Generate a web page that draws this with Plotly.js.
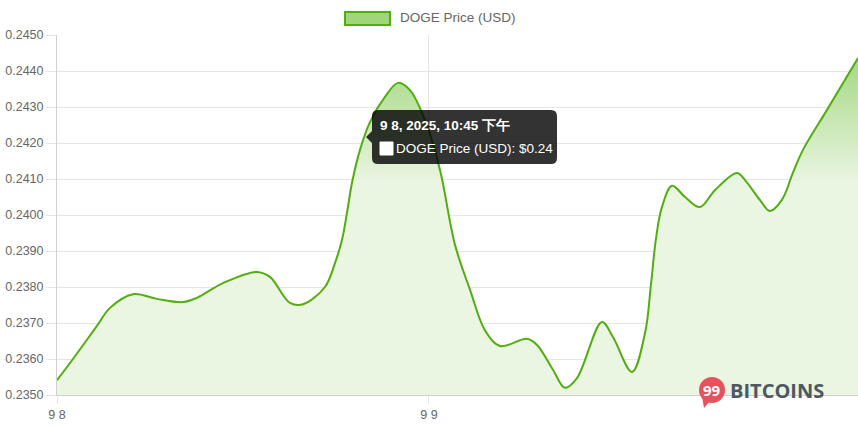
<!DOCTYPE html>
<html>
<head>
<meta charset="utf-8">
<script src="https://cdn.plot.ly/plotly-3.0.1.min.js"></script>
<style>html,body{margin:0;padding:0;background:#fff;}#chart{width:858px;height:428px;}</style>
</head>
<body>
<div id="chart"></div>
<script>
// hours since 2025-09-08 00:00
const hours = [0, 1.03, 2.58, 3.42, 4.90, 6.45, 8.13, 9.03, 10.71, 12.90, 13.74, 15.03, 15.87, 17.29, 17.94, 18.39, 18.71, 19.03, 19.55, 20.19, 21.16, 22.00, 22.77, 23.74, 24.71, 25.68, 26.65, 27.61, 28.58, 30.32, 30.97, 32.00, 32.77, 33.55, 35.16, 35.87, 37.10, 37.94, 38.32, 38.65, 39.03, 39.68, 40.52, 41.48, 42.45, 43.87, 44.39, 45.35, 45.99, 46.77, 47.48, 48.13, 49.68, 51.68];
const prices = [0.23541, 0.23600, 0.23692, 0.23742, 0.23780, 0.23767, 0.23758, 0.23770, 0.23811, 0.23842, 0.23828, 0.23756, 0.23752, 0.23800, 0.23867, 0.23931, 0.24006, 0.24089, 0.24181, 0.24258, 0.24328, 0.24367, 0.24347, 0.24264, 0.24125, 0.23917, 0.23792, 0.23680, 0.23636, 0.23656, 0.23639, 0.23570, 0.23520, 0.23547, 0.23703, 0.23661, 0.23564, 0.23672, 0.23806, 0.23936, 0.24022, 0.24081, 0.24050, 0.24022, 0.24069, 0.24117, 0.24097, 0.24042, 0.24011, 0.24042, 0.24117, 0.24181, 0.24292, 0.24436];
const tickPos = [0, 24];
const tickLabels = ['9 8', '9 9'];
const seriesName = 'DOGE Price (USD)';
const tooltipTitle = '9 8, 2025, 10:45 下午';
const tooltipBody = 'DOGE Price (USD): $0.24';

const LINE = '#52ae10';
// pixel -> paper helpers for decorations (legend, tooltip, watermark)
const ML = 57, MT = 35, PW = 801, PH = 360;
const PX = p => (p - ML) / PW;
const PY = p => (MT + PH - p) / PH;

const trace = {
  x: hours, y: prices, type: 'scatter', mode: 'lines', name: seriesName,
  line: {color: LINE, width: 2, shape: 'spline', smoothing: 1.0},
  fill: 'tozeroy',
  fillcolor: 'rgba(234,245,226,1)',
  fillgradient: {type: 'vertical', start: 0.2350, stop: 0.2445,
    colorscale: [[0, 'rgba(234,245,226,1)'], [0.62, 'rgba(234,245,226,1)'], [1, 'rgba(163,215,128,1)']]},
  hoverinfo: 'skip', showlegend: false
};

function tooltipPath(x0, y0, x1, y1, r) {
  const f = (x, y) => PX(x) + ',' + PY(y);
  return 'M' + f(x0 + r, y0) + ' L' + f(x1 - r, y0) + ' Q' + f(x1, y0) + ' ' + f(x1, y0 + r) +
    ' L' + f(x1, y1 - r) + ' Q' + f(x1, y1) + ' ' + f(x1 - r, y1) +
    ' L' + f(x0 + r, y1) + ' Q' + f(x0, y1) + ' ' + f(x0, y1 - r) +
    ' L' + f(x0, 143) + ' L' + f(366, 137) + ' L' + f(x0, 131) +
    ' L' + f(x0, y0 + r) + ' Q' + f(x0, y0) + ' ' + f(x0 + r, y0) + ' Z';
}

const FONT = 'Liberation Sans, Arial, sans-serif';

const layout = {
  width: 858, height: 428,
  margin: {l: ML, r: 0, t: MT, b: 33},
  paper_bgcolor: '#fff', plot_bgcolor: '#fff',
  font: {family: FONT, size: 12.5, color: '#666'},
  showlegend: false,
  xaxis: {range: [0, 51.68], tickvals: tickPos, ticktext: tickLabels,
    showgrid: true, gridcolor: '#e5e5e5', zeroline: false,
    ticks: 'outside', ticklen: 8, tickcolor: '#e5e5e5',
    showline: true, linecolor: '#d0d0d0', tickfont: {size: 12.5, color: '#666'}},
  yaxis: {range: [0.2350, 0.2450], dtick: 0.001, tickformat: '.4f',
    showgrid: true, gridcolor: '#e5e5e5', zeroline: false,
    ticks: 'outside', ticklen: 10, tickcolor: '#e5e5e5',
    showline: true, linecolor: '#d0d0d0', tickfont: {size: 12.5, color: '#666'}},
  shapes: [
    // legend swatch
    {type: 'rect', xref: 'paper', yref: 'paper', x0: PX(345), x1: PX(390), y0: PY(25), y1: PY(12),
      fillcolor: '#9fd67a', line: {color: LINE, width: 2}, layer: 'above'},
    // tooltip box
    {type: 'path', xref: 'paper', yref: 'paper', path: tooltipPath(372, 110, 557, 164, 6),
      fillcolor: 'rgba(0,0,0,0.8)', line: {width: 0}, layer: 'above'},
    {type: 'rect', xref: 'paper', yref: 'paper', x0: PX(380), x1: PX(393), y0: PY(155), y1: PY(142),
      fillcolor: '#fff', line: {color: '#fff', width: 1}, layer: 'above'},
    // watermark logo
    {type: 'circle', xref: 'paper', yref: 'paper', x0: PX(699), x1: PX(725), y0: PY(403), y1: PY(377),
      fillcolor: '#e8525f', line: {width: 0}, layer: 'above'},
    {type: 'path', xref: 'paper', yref: 'paper',
      path: 'M' + PX(702) + ',' + PY(396) + ' L' + PX(704) + ',' + PY(408) + ' L' + PX(710) + ',' + PY(401) + ' Z',
      fillcolor: '#e8525f', line: {width: 0}, layer: 'above'}
  ],
  annotations: [
    {xref: 'paper', yref: 'paper', x: PX(398), y: PY(18), xanchor: 'left', yanchor: 'middle',
      text: seriesName, showarrow: false, font: {size: 13.5, color: '#666', family: FONT}},
    {xref: 'paper', yref: 'paper', x: PX(378), y: PY(125), xanchor: 'left', yanchor: 'middle',
      text: '<b>' + tooltipTitle + '</b>', showarrow: false,
      font: {color: '#fff', size: 13.5, family: FONT}},
    {xref: 'paper', yref: 'paper', x: PX(394), y: PY(148), xanchor: 'left', yanchor: 'middle',
      text: tooltipBody, showarrow: false,
      font: {color: '#fff', size: 13.5, family: FONT}},
    {xref: 'paper', yref: 'paper', x: PX(712), y: PY(390), xanchor: 'center', yanchor: 'middle',
      text: '<b>99</b>', showarrow: false, font: {color: '#fff', size: 15, family: 'Open Sans, sans-serif'}},
    {xref: 'paper', yref: 'paper', x: PX(728), y: PY(390), xanchor: 'left', yanchor: 'middle',
      text: '<b>BITCOINS</b>', showarrow: false, font: {color: '#4e5862', size: 20, family: 'Open Sans, sans-serif'}}
  ]
};

Plotly.newPlot('chart', [trace], layout, {displayModeBar: false, staticPlot: true});
</script>
</body>
</html>
